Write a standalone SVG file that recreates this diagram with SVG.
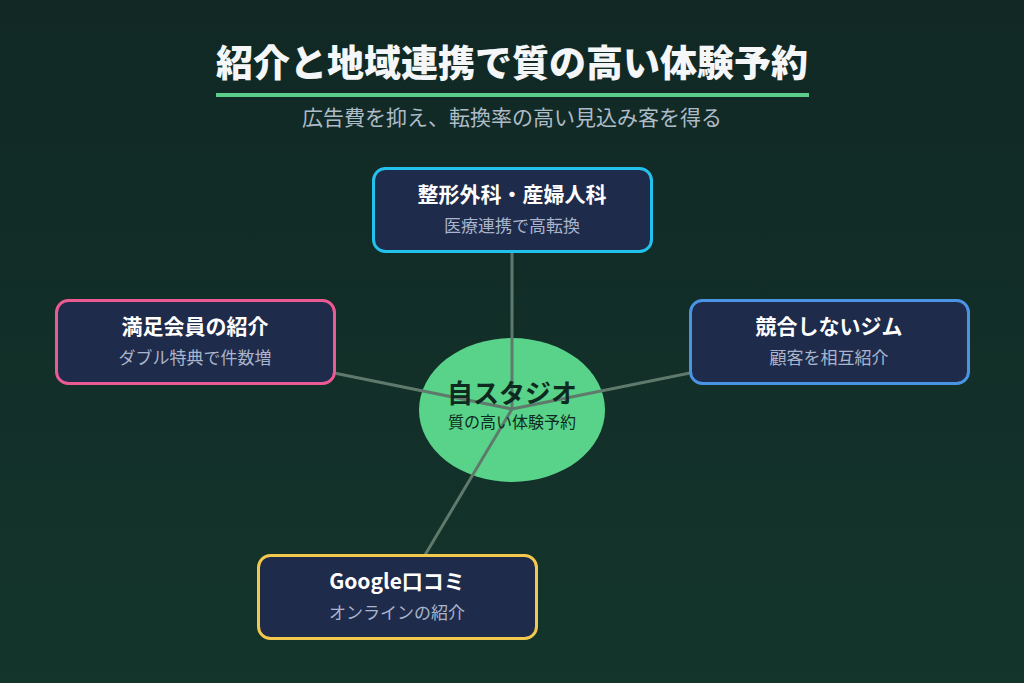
<svg xmlns="http://www.w3.org/2000/svg" width="1024" height="683" viewBox="0 0 1024 683">
<defs>
<linearGradient id="bg" x1="0" y1="0" x2="0" y2="1">
<stop offset="0" stop-color="#112824"/>
<stop offset="1" stop-color="#13352c"/>
</linearGradient>
<style>
text{font-family:"Noto Sans CJK JP","Noto Sans",sans-serif;text-anchor:middle}
.box{fill:#1f2b4b;stroke-width:3}
.nt{font-size:21px;font-weight:700;fill:#ffffff}
.ns{font-size:17px;fill:#a9b5cc}
.conn line{stroke:#5f7a6c;stroke-width:3}
</style>
</defs>
<rect width="1024" height="683" fill="url(#bg)"/>
<g id="title">
<text x="512" y="77" font-size="37" font-weight="900" fill="#f4f6f8">紹介と地域連携で質の高い体験予約</text>
<rect x="216" y="93" width="593" height="4" fill="#5bcf8a"/>
<text x="512" y="125" font-size="21" fill="#aebbc8">広告費を抑え、転換率の高い見込み客を得る</text>
</g>
<g id="center-fill"><ellipse cx="512" cy="410" rx="93" ry="72" fill="#58d389"/></g>
<g id="connectors" class="conn">
<line x1="512" y1="252" x2="512" y2="409"/>
<line x1="334" y1="373" x2="512" y2="409"/>
<line x1="690" y1="373" x2="512" y2="409"/>
<line x1="425" y1="555" x2="512" y2="409"/>
</g>
<g id="center">
<text x="512" y="403" font-size="26" font-weight="700" fill="#0e2a20">自スタジオ</text>
<text x="512" y="428" font-size="16" fill="#0e2a20">質の高い体験予約</text>
</g>
<g id="node-top">
<rect class="box" x="373.5" y="168.5" width="278" height="83" rx="12" stroke="#23c2ec"/>
<text class="nt" x="512" y="202">整形外科・産婦人科</text>
<text class="ns" x="512" y="232">医療連携で高転換</text>
</g>
<g id="node-left">
<rect class="box" x="56.5" y="300.5" width="278" height="83" rx="12" stroke="#ec5a93"/>
<text class="nt" x="195" y="334">満足会員の紹介</text>
<text class="ns" x="195" y="364">ダブル特典で件数増</text>
</g>
<g id="node-right">
<rect class="box" x="690.5" y="300.5" width="278" height="83" rx="12" stroke="#4a94e6"/>
<text class="nt" x="829" y="334">競合しないジム</text>
<text class="ns" x="829" y="364">顧客を相互紹介</text>
</g>
<g id="node-bottom">
<rect class="box" x="258.5" y="555.5" width="278" height="83" rx="12" stroke="#f2c94c"/>
<text class="nt" x="397" y="589">Google口コミ</text>
<text class="ns" x="397" y="619">オンラインの紹介</text>
</g>
</svg>
